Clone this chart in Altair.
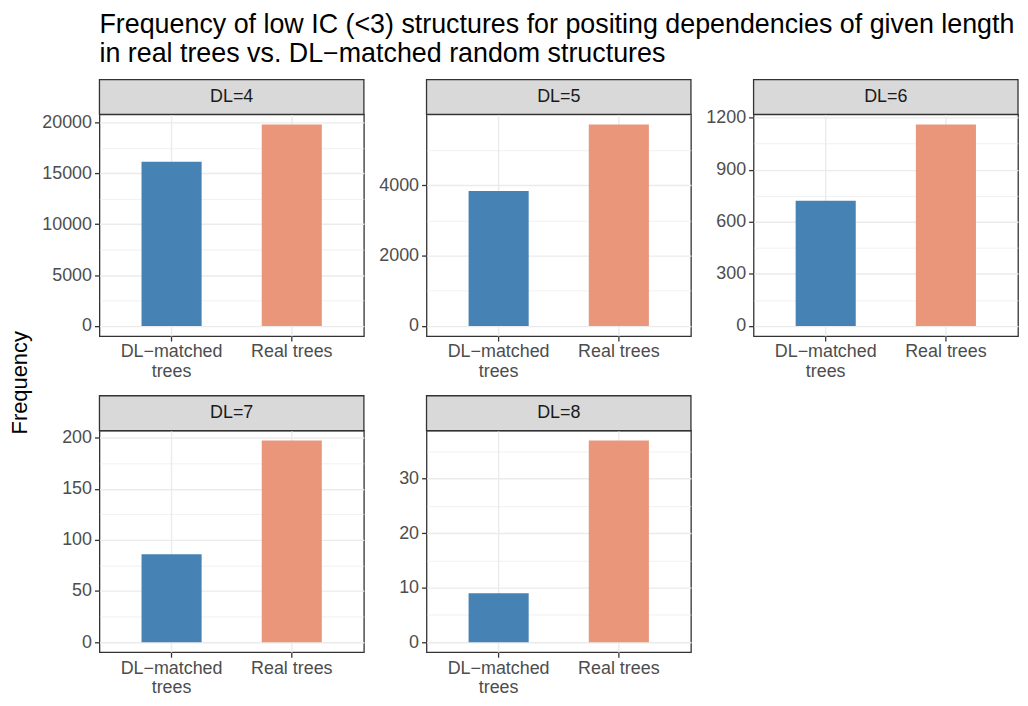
import json
import altair as alt
import pandas as pd

# ---- data ----
dl_lengths = [4, 5, 6, 7, 8]
categories = ["DL\u2212matched trees", "Real trees"]
matched_values = [16150, 3830, 721, 86, 9]
real_values = [19800, 5720, 1160, 197, 37]
major_ticks = {
    4: [0, 5000, 10000, 15000, 20000],
    5: [0, 2000, 4000],
    6: [0, 300, 600, 900, 1200],
    7: [0, 50, 100, 150, 200],
    8: [0, 10, 20, 30],
}
bar_colors = ["#4682B4", "#E9967A"]

title_lines = [
    "Frequency of low IC (<3) structures for positing dependencies of given length",
    "\u2009in real trees vs. DL\u2212matched random structures",
]

FONT = "Liberation Sans"
W, H = 266, 223
STRIP_H = 35
TXT = 18


def make_panel(i, dl):
    df = pd.DataFrame({"group": categories,
                       "value": [matched_values[i], real_values[i]]})
    vmax = max(matched_values[i], real_values[i])
    lo, hi = -0.05 * vmax, 1.05 * vmax
    major = major_ticks[dl]
    step = major[1] - major[0]
    vals = []
    v = 0
    while v <= hi:
        vals.append(v)
        v += step / 2
    vals = [x for x in vals if lo <= x <= hi]
    is_major = "indexof(" + json.dumps(major) + ", datum.value) >= 0"

    bars = alt.Chart(df).mark_bar().encode(
        x=alt.X("group:N", sort=categories,
                scale=alt.Scale(paddingInner=0.5, paddingOuter=0.35),
                axis=alt.Axis(title=None, labelAngle=0, grid=True,
                              gridColor="#EBEBEB", gridWidth=1.4,
                              domain=False, tickColor="#333333", tickWidth=1.3,
                              tickSize=5, labelPadding=2,
                              labelColor="#4D4D4D", labelFont=FONT,
                              labelFontSize=TXT, labelLineHeight=20,
                              labelBaseline="top",
                              labelExpr="datum.value == '" + categories[0] +
                              "' ? ['DL\u2212matched', 'trees'] : datum.label")),
        y=alt.Y("value:Q",
                scale=alt.Scale(domain=[lo, hi], nice=False, zero=False),
                axis=alt.Axis(title=None, values=vals, format="d",
                              labelExpr=is_major + " ? datum.label : ''",
                              grid=True, gridColor="#EBEBEB",
                              gridWidth={"condition": {"test": is_major, "value": 1.4}, "value": 0.7},
                              tickOpacity={"condition": {"test": is_major, "value": 1}, "value": 0},
                              domain=False, tickColor="#333333", tickWidth=1.3,
                              tickSize=5, labelPadding=3,
                              labelColor="#4D4D4D", labelFont=FONT,
                              labelFontSize=TXT)),
        color=alt.Color("group:N", scale=alt.Scale(domain=categories, range=bar_colors),
                        legend=None),
    )

    strip_df = pd.DataFrame({"label": [f"DL={dl}"]})
    strip_rect = alt.Chart(strip_df).mark_rect(
        fill="#D9D9D9", stroke="#333333", strokeWidth=1.3
    ).encode(x=alt.value(0), x2=alt.value(W), y=alt.value(-STRIP_H), y2=alt.value(0))
    strip_text = alt.Chart(strip_df).mark_text(
        font=FONT, fontSize=TXT, color="#1A1A1A", baseline="middle", align="center"
    ).encode(x=alt.value(W / 2), y=alt.value(-STRIP_H / 2), text="label:N")

    layers = [bars, strip_rect, strip_text]
    if dl == 7:
        ylab_df = pd.DataFrame({"t": ["Frequency"]})
        ylab = alt.Chart(ylab_df).mark_text(
            font=FONT, fontSize=22, color="black", angle=270,
            baseline="middle", align="center"
        ).encode(x=alt.value(-80), y=alt.value(-48), text="t:N")
        layers.append(ylab)
    return alt.layer(*layers).properties(width=W, height=H)


panels = [make_panel(i, dl) for i, dl in enumerate(dl_lengths)]

chart = alt.concat(
    *panels, columns=3,
    spacing=alt.RowColnumber(row=95, column=63),
    bounds="flush",
    title=alt.Title(text=title_lines, anchor="start", frame="group", fontSize=27,
                    font=FONT, fontWeight="normal", color="black",
                    lineHeight=30, offset=10),
).configure_view(stroke="#333333", strokeWidth=1.3).properties(
    padding={"left": 0, "top": 0, "right": 0, "bottom": 0})

chart.save("out.html", embed_options={"renderer": "svg", "actions": False})
